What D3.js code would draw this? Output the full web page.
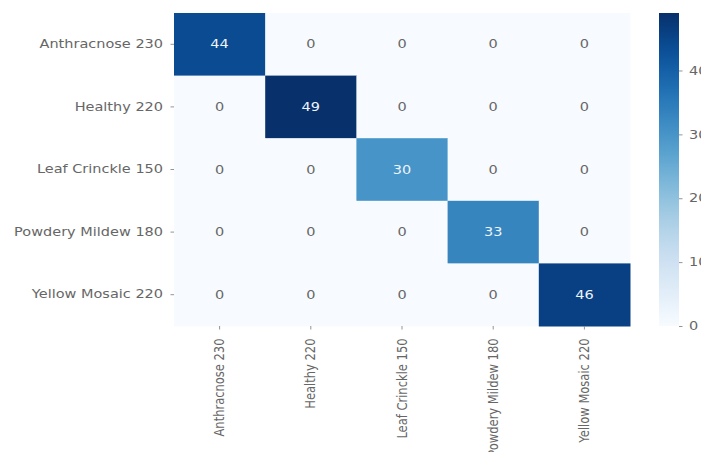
<!DOCTYPE html>
<html>
<head>
<meta charset="utf-8">
<script src="https://cdn.jsdelivr.net/npm/d3@7"></script>
<style>
  html, body { margin: 0; padding: 0; background: #fff; }
  svg { display: block; }
  text { font-family: "DejaVu Sans", sans-serif; }
</style>
</head>
<body>
<svg id="chart" width="701" height="452"></svg>
<script>
// Confusion matrix: true class (rows) vs predicted class (columns)
const trueLabels = ["Anthracnose 230", "Healthy 220", "Leaf Crinckle 150", "Powdery Mildew 180", "Yellow Mosaic 220"];
const predLabels = ["Anthracnose 230", "Healthy 220", "Leaf Crinckle 150", "Powdery Mildew 180", "Yellow Mosaic 220"];
const matrix = [
  [44, 0, 0, 0, 0],
  [0, 49, 0, 0, 0],
  [0, 0, 30, 0, 0],
  [0, 0, 0, 33, 0],
  [0, 0, 0, 0, 46]
];
const colorbarTicks = [0, 10, 20, 30, 40];

// layout
const plot = { left: 174, right: 630, top: 13, bottom: 326 };
const cbar = { left: 659, width: 20 };
const sx = 1.26;          // horizontal text stretch
const fontSize = 11.5;
const textColor = "#666";

const svg = d3.select("#chart");
svg.append("rect").attr("width", 701).attr("height", 452).attr("fill", "#fff");

const x = d3.scaleBand().domain(predLabels).range([plot.left, plot.right]);
const y = d3.scaleBand().domain(trueLabels).range([plot.top, plot.bottom]);
const vmax = d3.max(matrix.flat());
const color = d3.scaleSequential(d3.interpolateBlues).domain([0, vmax]);

const cells = [];
matrix.forEach((row, i) => row.forEach((v, j) => cells.push({ r: trueLabels[i], c: predLabels[j], v })));

svg.append("g").selectAll("rect").data(cells).join("rect")
  .attr("x", d => x(d.c))
  .attr("y", d => y(d.r))
  .attr("width", x.bandwidth() + 0.5)
  .attr("height", y.bandwidth() + 0.5)
  .attr("fill", d => color(d.v));

// annotations: white text on dark cells, gray on light cells
function luminance(c) {
  const rgb = d3.rgb(c);
  const lin = [rgb.r, rgb.g, rgb.b].map(u => {
    u /= 255;
    return u <= 0.03928 ? u / 12.92 : Math.pow((u + 0.055) / 1.055, 2.4);
  });
  return 0.2126 * lin[0] + 0.7152 * lin[1] + 0.0722 * lin[2];
}
svg.append("g").selectAll("text").data(cells).join("text")
  .attr("transform", d => `translate(${x(d.c) + x.bandwidth() / 2},${y(d.r) + y.bandwidth() / 2}) scale(${sx},1)`)
  .attr("text-anchor", "middle")
  .attr("dy", "0.35em")
  .attr("font-size", fontSize)
  .attr("fill", d => luminance(color(d.v)) > 0.408 ? textColor : "#eef4fb")
  .text(d => d.v);

function styleAxis(g) {
  g.select(".domain").remove();
  g.selectAll(".tick line").attr("stroke", "#888").attr("stroke-width", 0.9);
  g.selectAll(".tick text").attr("fill", textColor).attr("font-size", fontSize);
}

// row axis
const yAxis = svg.append("g")
  .attr("transform", `translate(${plot.left},0)`)
  .call(d3.axisLeft(y).tickSize(3.5).tickPadding(5.2));
styleAxis(yAxis);
yAxis.selectAll(".tick text").attr("transform", `scale(${sx},1)`);

// column axis with vertical labels
const xAxis = svg.append("g")
  .attr("transform", `translate(0,${plot.bottom})`)
  .call(d3.axisBottom(x).tickSize(3.5));
styleAxis(xAxis);
xAxis.selectAll(".tick text")
  .attr("transform", `scale(${sx},1) rotate(-90)`)
  .attr("x", -12.5)
  .attr("y", 0)
  .attr("dy", "0.32em")
  .style("text-anchor", "end");

// colorbar
const cy = d3.scaleLinear().domain([0, vmax]).range([plot.bottom, plot.top]);
const defs = svg.append("defs");
const grad = defs.append("linearGradient").attr("id", "cbar-grad")
  .attr("x1", 0).attr("x2", 0).attr("y1", 1).attr("y2", 0);
d3.range(0, 1.0001, 0.05).forEach(t => {
  grad.append("stop").attr("offset", t).attr("stop-color", d3.interpolateBlues(t));
});
svg.append("rect")
  .attr("x", cbar.left).attr("y", plot.top)
  .attr("width", cbar.width).attr("height", plot.bottom - plot.top)
  .attr("fill", "url(#cbar-grad)");

const cAxis = svg.append("g")
  .attr("transform", `translate(${cbar.left + cbar.width},0)`)
  .call(d3.axisRight(cy).tickValues(colorbarTicks).tickSize(3.5).tickPadding(4.5));
styleAxis(cAxis);
cAxis.selectAll(".tick text").attr("transform", `scale(${sx},1)`);
</script>
</body>
</html>
